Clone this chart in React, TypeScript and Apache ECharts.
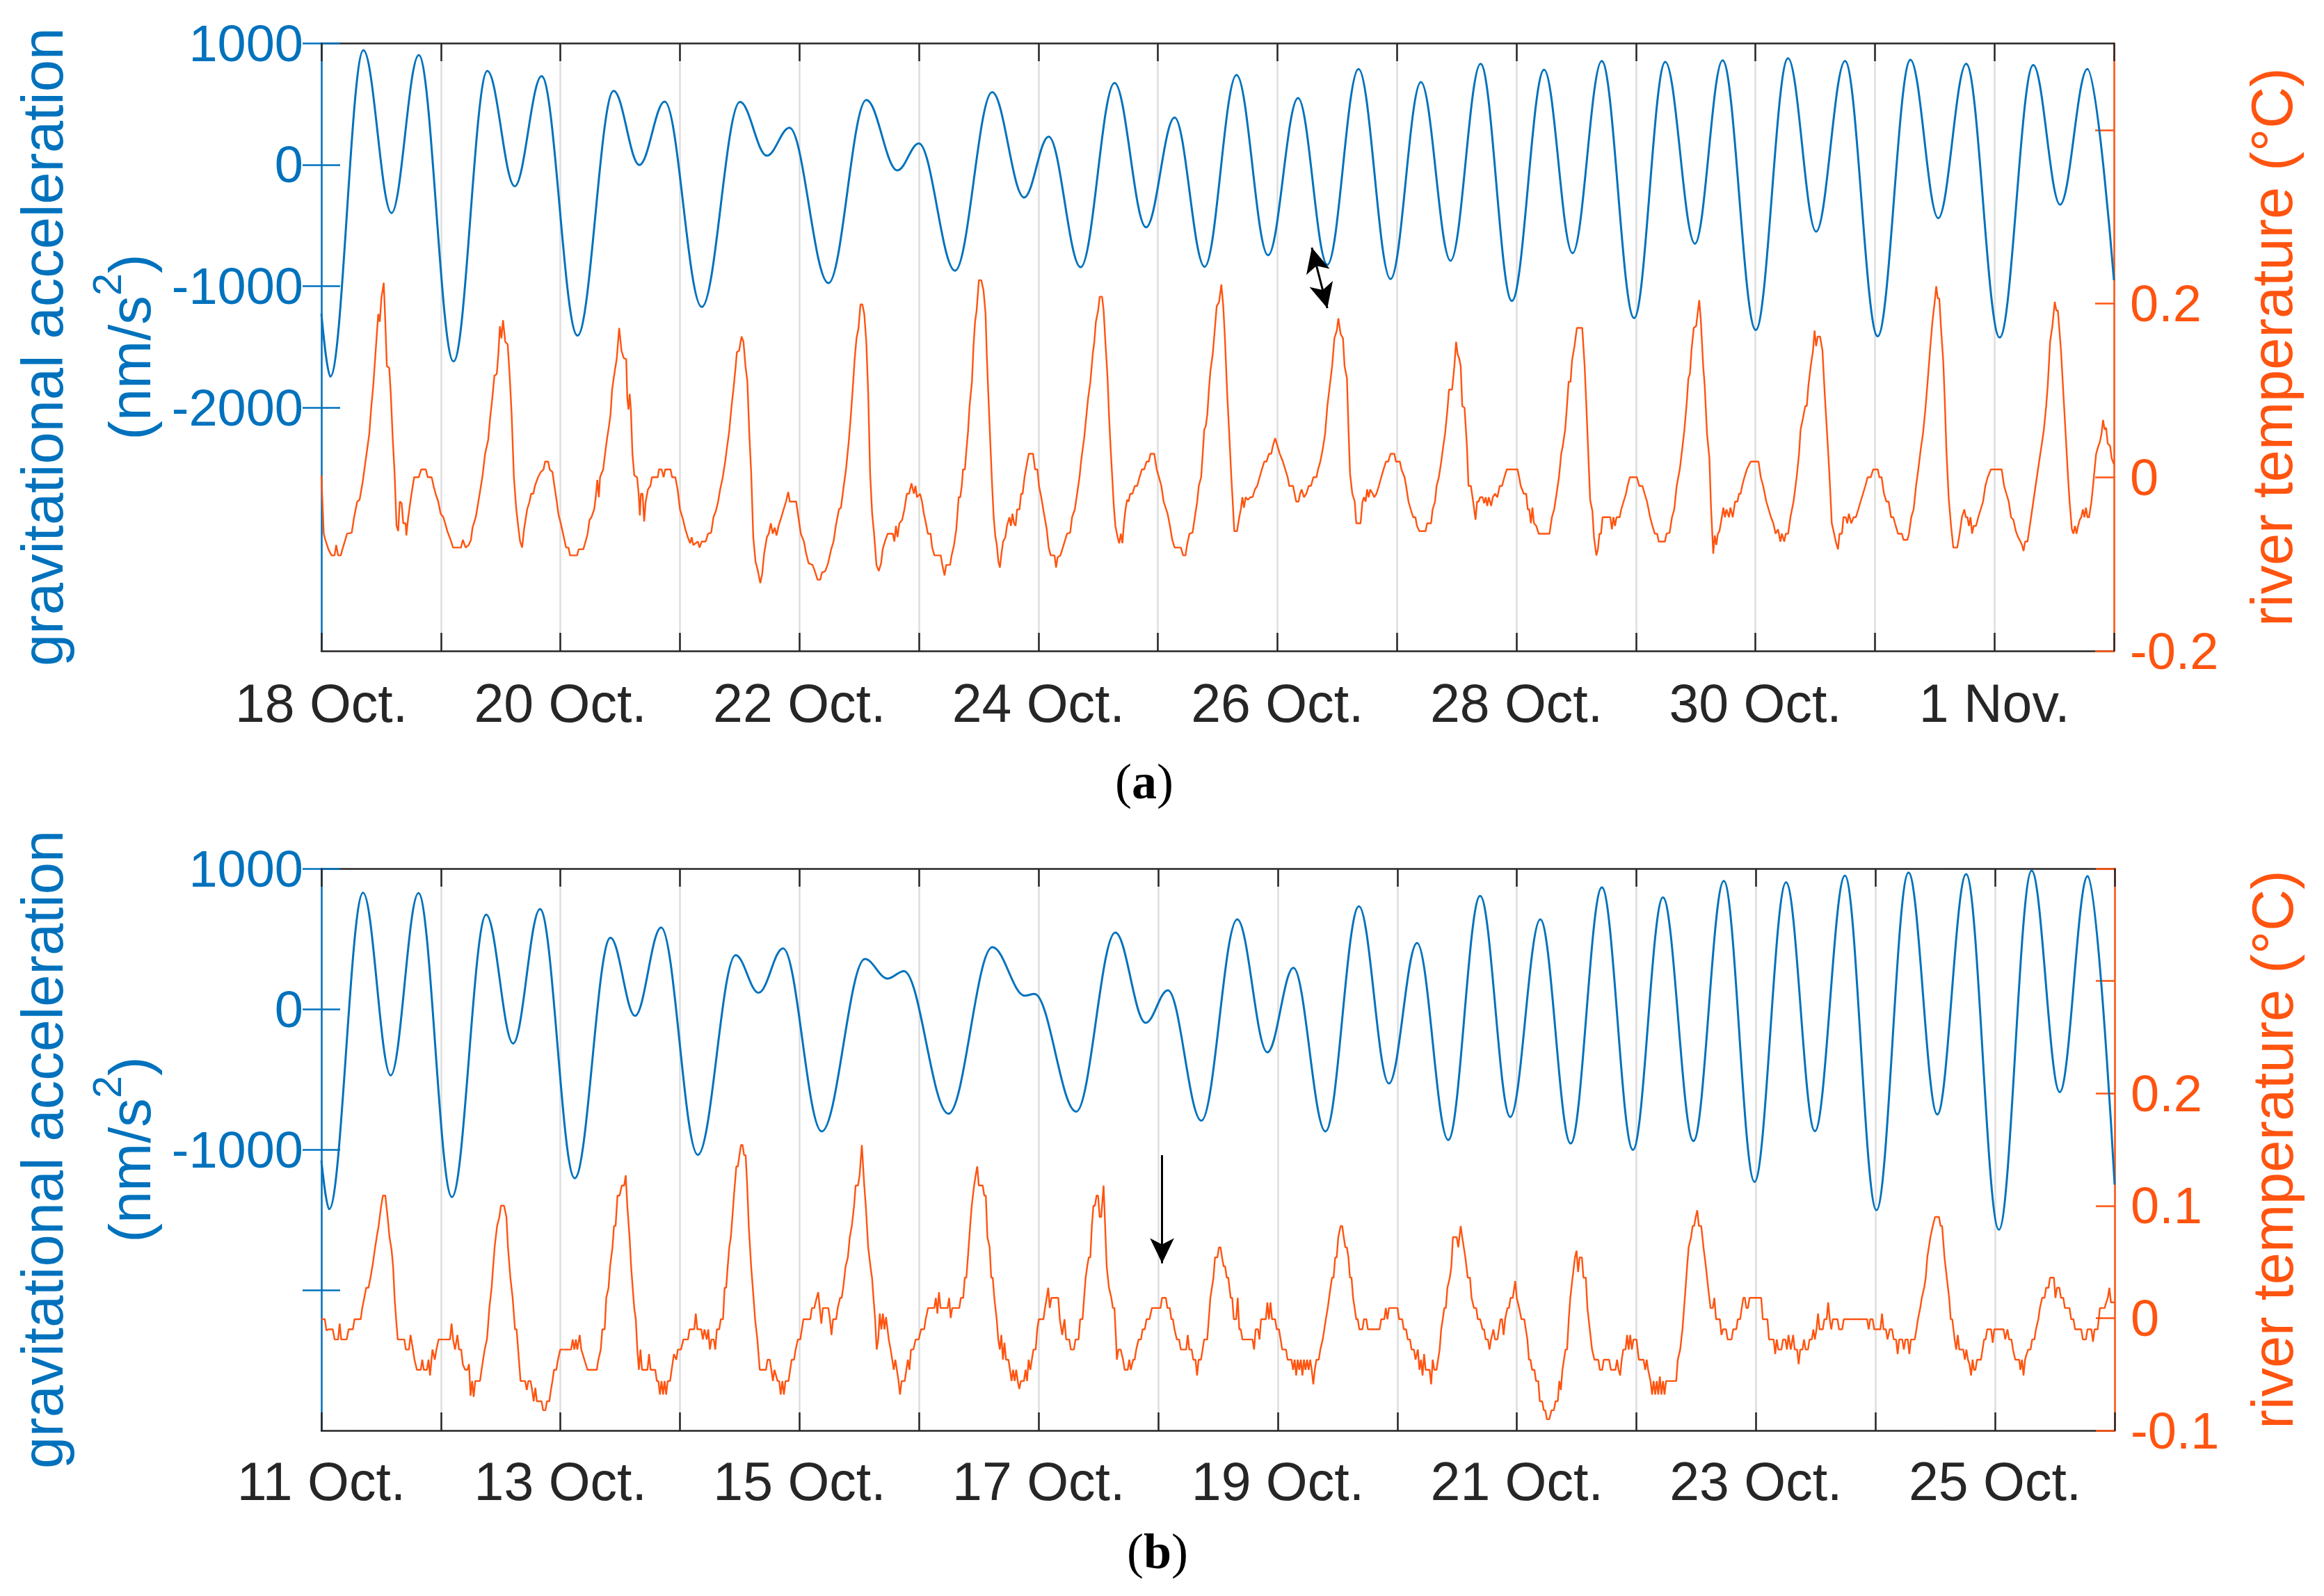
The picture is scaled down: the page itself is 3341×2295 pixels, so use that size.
import React, { useEffect, useRef } from 'react';
import * as echarts from 'echarts';

const BLUE = '#0072BD';
const ORANGE = '#FF5410';
const DARK = '#262626';
const GRIDC = '#DEDEDE';
const FONT = '"Liberation Sans", Arial, Helvetica, sans-serif';
const SERIF = '"Liberation Serif", "Times New Roman", serif';

// tick labels (every second day)
const labelsA = ['18 Oct.', '20 Oct.', '22 Oct.', '24 Oct.', '26 Oct.', '28 Oct.', '30 Oct.', '1 Nov.'];
const labelsB = ['11 Oct.', '13 Oct.', '15 Oct.', '17 Oct.', '19 Oct.', '21 Oct.', '23 Oct.', '25 Oct.'];
const labelDays = [0, 2, 4, 6, 8, 10, 12, 14];

const gravTicksA = [-2000, -1000, 0, 1000];
const gravLabelsA = [-2000, -1000, 0, 1000];
const tempTicksA = [-0.2, 0, 0.2, 0.4];
const tempLabelsA = [-0.2, 0, 0.2];
const gravTicksB = [-2000, -1000, 0, 1000];
const gravLabelsB = [-1000, 0, 1000];
const tempTicksB = [-0.1, 0, 0.1, 0.2, 0.3, 0.4];
const tempLabelsB = [-0.1, 0, 0.1, 0.2];

// [days since first date, nm/s^2] - turning points of the tidal signal
const gravityA = [
  [0, -1226], [0.075, -1743], [0.352, 941], [0.587, -398], [0.815, 902], [1.106, -1619], [1.389, 771], [1.618, -178],
  [1.843, 728], [2.143, -1406], [2.446, 607], [2.661, -2], [2.873, 519], [3.183, -1170], [3.503, 516], [3.728, 74],
  [3.917, 303], [4.243, -974], [4.56, 532], [4.82, -47], [5.0, 175], [5.303, -872], [5.613, 597], [5.881, -270],
  [6.086, 231], [6.354, -843], [6.637, 673], [6.901, -515], [7.14, 388], [7.391, -840], [7.658, 738], [7.922, -745],
  [8.173, 548], [8.418, -823], [8.679, 787], [8.947, -941], [9.201, 679], [9.449, -790], [9.7, 830], [9.962, -1121],
  [10.232, 781], [10.47, -728], [10.714, 853], [10.985, -1262], [11.246, 846], [11.494, -650], [11.725, 859],
  [12.003, -1360], [12.273, 876], [12.508, -551], [12.75, 853], [13.023, -1412], [13.297, 863], [13.53, -440],
  [13.764, 830], [14.044, -1422], [14.325, 820], [14.55, -329], [14.778, 787], [15, -950],
];

// [days, degC]
const temperatureA = [
  [0, 0.002], [0.02, -0.065], [0.033, -0.072], [0.059, -0.083], [0.085, -0.09], [0.111, -0.09], [0.124, -0.078], [0.14, -0.09],
  [0.163, -0.09], [0.176, -0.083], [0.196, -0.074], [0.215, -0.065], [0.254, -0.064], [0.274, -0.046], [0.3, -0.028], [0.32, -0.026],
  [0.346, -0.005], [0.369, 0.018], [0.401, 0.05], [0.417, 0.08], [0.434, 0.105], [0.457, 0.151], [0.476, 0.188], [0.489, 0.179],
  [0.502, 0.206], [0.522, 0.224], [0.535, 0.179], [0.548, 0.128], [0.568, 0.126], [0.581, 0.096], [0.597, 0.045], [0.613, 0.004],
  [0.629, -0.056], [0.643, -0.062], [0.656, -0.028], [0.672, -0.03], [0.685, -0.053], [0.705, -0.053], [0.711, -0.067], [0.727, -0.046],
  [0.75, -0.023], [0.776, 0], [0.815, 0], [0.835, 0.009], [0.874, 0.009], [0.89, 0], [0.923, 0], [0.939, -0.01], [0.956, -0.019],
  [0.978, -0.028], [0.998, -0.042], [1.021, -0.046], [1.054, -0.062], [1.086, -0.074], [1.102, -0.081], [1.168, -0.081], [1.184, -0.072],
  [1.207, -0.081], [1.233, -0.078], [1.252, -0.072], [1.265, -0.058], [1.292, -0.046], [1.314, -0.028], [1.347, 0], [1.37, 0.027],
  [1.396, 0.043], [1.412, 0.068], [1.429, 0.089], [1.448, 0.117], [1.468, 0.119], [1.481, 0.142], [1.494, 0.174], [1.507, 0.16],
  [1.52, 0.181], [1.539, 0.156], [1.559, 0.153], [1.575, 0.119], [1.592, 0.073], [1.611, 0], [1.631, -0.037], [1.65, -0.06],
  [1.663, -0.074], [1.68, -0.081], [1.696, -0.06], [1.722, -0.037], [1.742, -0.028], [1.755, -0.019], [1.774, -0.019], [1.787, -0.01],
  [1.813, 0], [1.836, 0.006], [1.859, 0.009], [1.872, 0.018], [1.898, 0.018], [1.911, 0.009], [1.934, 0.006], [1.95, -0.01],
  [1.97, -0.028], [1.983, -0.042], [2.003, -0.053], [2.029, -0.069], [2.048, -0.081], [2.068, -0.081], [2.081, -0.09], [2.14, -0.09],
  [2.153, -0.083], [2.192, -0.083], [2.211, -0.074], [2.228, -0.065], [2.244, -0.049], [2.26, -0.046], [2.283, -0.037], [2.296, -0.023],
  [2.309, -0.003], [2.322, -0.023], [2.332, 0], [2.358, 0.009], [2.374, 0.027], [2.391, 0.045], [2.407, 0.059], [2.42, 0.073],
  [2.433, 0.101], [2.446, 0.114], [2.472, 0.137], [2.492, 0.172], [2.511, 0.146], [2.531, 0.137], [2.551, 0.136], [2.56, 0.091],
  [2.57, 0.078], [2.58, 0.096], [2.59, 0.078], [2.603, 0.027], [2.619, 0.002], [2.642, 0], [2.655, -0.019], [2.665, -0.044],
  [2.674, -0.019], [2.688, -0.019], [2.701, -0.051], [2.714, -0.028], [2.733, -0.014], [2.753, -0.01], [2.766, 0], [2.815, 0],
  [2.825, 0.009], [2.847, 0.009], [2.864, 0], [2.877, 0.009], [2.922, 0.009], [2.935, 0], [2.962, 0], [2.981, -0.014], [3.001, -0.037],
  [3.027, -0.049], [3.046, -0.06], [3.066, -0.069], [3.086, -0.076], [3.099, -0.069], [3.112, -0.078], [3.151, -0.074], [3.164, -0.081],
  [3.183, -0.074], [3.216, -0.074], [3.236, -0.065], [3.262, -0.064], [3.281, -0.046], [3.301, -0.039], [3.32, -0.028], [3.337, -0.014],
  [3.359, 0], [3.379, 0.018], [3.392, 0.032], [3.412, 0.052], [3.431, 0.08], [3.451, 0.105], [3.467, 0.128], [3.477, 0.144],
  [3.496, 0.146], [3.516, 0.162], [3.532, 0.156], [3.549, 0.128], [3.565, 0.11], [3.581, 0.05], [3.597, 0.004], [3.614, -0.069],
  [3.633, -0.097], [3.653, -0.108], [3.673, -0.122], [3.689, -0.111], [3.705, -0.088], [3.728, -0.069], [3.744, -0.065], [3.761, -0.053],
  [3.777, -0.065], [3.793, -0.058], [3.809, -0.067], [3.826, -0.056], [3.849, -0.046], [3.868, -0.037], [3.888, -0.028], [3.907, -0.017],
  [3.92, -0.028], [3.973, -0.028], [3.992, -0.046], [4.012, -0.065], [4.038, -0.074], [4.057, -0.088], [4.077, -0.099], [4.11, -0.101],
  [4.129, -0.108], [4.152, -0.118], [4.175, -0.118], [4.188, -0.11], [4.217, -0.108], [4.24, -0.099], [4.266, -0.083], [4.286, -0.074],
  [4.305, -0.056], [4.331, -0.037], [4.348, -0.035], [4.371, -0.01], [4.39, 0.009], [4.413, 0.041], [4.429, 0.068], [4.446, 0.101],
  [4.462, 0.135], [4.478, 0.16], [4.495, 0.172], [4.511, 0.199], [4.527, 0.199], [4.543, 0.188], [4.56, 0.156], [4.576, 0.096],
  [4.592, 0.004], [4.609, -0.042], [4.625, -0.065], [4.645, -0.101], [4.664, -0.108], [4.684, -0.099], [4.697, -0.083], [4.716, -0.074],
  [4.739, -0.065], [4.782, -0.065], [4.795, -0.074], [4.808, -0.056], [4.821, -0.069], [4.837, -0.053], [4.86, -0.049], [4.879, -0.037],
  [4.899, -0.019], [4.918, -0.019], [4.938, -0.007], [4.958, -0.019], [4.971, -0.01], [4.984, -0.023],
  [5.01, -0.019], [5.026, -0.028], [5.042, -0.042], [5.059, -0.053], [5.075, -0.065], [5.098, -0.065], [5.111, -0.081], [5.13, -0.09],
  [5.183, -0.09], [5.196, -0.101], [5.215, -0.113], [5.228, -0.101], [5.261, -0.101], [5.274, -0.09], [5.294, -0.078], [5.313, -0.06],
  [5.333, -0.023], [5.346, -0.023], [5.359, -0.01], [5.369, 0.009], [5.385, 0.009], [5.398, 0.032], [5.411, 0.052], [5.424, 0.082],
  [5.444, 0.11], [5.457, 0.151], [5.47, 0.179], [5.483, 0.192], [5.502, 0.227], [5.522, 0.227], [5.541, 0.215], [5.558, 0.188],
  [5.568, 0.142], [5.581, 0.096], [5.6, 0.032], [5.613, -0.01], [5.626, -0.046], [5.639, -0.067], [5.652, -0.078], [5.665, -0.097],
  [5.678, -0.104], [5.691, -0.088], [5.705, -0.074], [5.724, -0.069], [5.737, -0.056], [5.757, -0.046], [5.77, -0.056], [5.783, -0.042],
  [5.796, -0.053], [5.809, -0.056], [5.822, -0.037], [5.842, -0.037], [5.855, -0.019], [5.868, -0.019], [5.884, 0], [5.907, 0.018],
  [5.92, 0.027], [5.956, 0.027], [5.972, 0.009], [5.992, 0.009], [6.005, -0.01], [6.024, -0.023], [6.047, -0.042], [6.07, -0.06],
  [6.086, -0.081], [6.103, -0.09], [6.135, -0.09], [6.148, -0.104], [6.161, -0.092], [6.184, -0.09], [6.2, -0.083], [6.22, -0.074],
  [6.24, -0.065], [6.266, -0.064], [6.282, -0.046], [6.305, -0.037], [6.324, -0.019], [6.344, 0], [6.357, 0.018], [6.37, 0.032],
  [6.383, 0.045], [6.403, 0.073], [6.416, 0.091], [6.435, 0.11], [6.455, 0.142], [6.468, 0.156], [6.481, 0.179], [6.5, 0.192],
  [6.513, 0.208], [6.533, 0.208], [6.546, 0.192], [6.559, 0.16], [6.579, 0.114], [6.592, 0.068], [6.605, 0.032], [6.618, 0],
  [6.631, -0.033], [6.644, -0.056], [6.663, -0.069], [6.676, -0.076], [6.69, -0.065], [6.703, -0.076], [6.716, -0.053], [6.729, -0.037],
  [6.742, -0.026], [6.755, -0.028], [6.768, -0.019], [6.787, -0.019], [6.807, -0.01], [6.827, -0.01], [6.846, 0], [6.866, 0.009],
  [6.885, 0.009], [6.905, 0.018], [6.924, 0.018], [6.938, 0.027], [6.97, 0.027], [6.99, 0.009], [7.009, 0], [7.029, -0.01],
  [7.048, -0.028], [7.081, -0.042], [7.101, -0.056], [7.12, -0.072], [7.14, -0.081], [7.192, -0.081], [7.211, -0.09], [7.231, -0.09],
  [7.244, -0.078], [7.264, -0.065], [7.29, -0.064], [7.309, -0.046], [7.329, -0.028], [7.342, -0.01], [7.362, 0], [7.375, 0.027],
  [7.388, 0.055], [7.401, 0.059], [7.414, 0.073], [7.427, 0.101], [7.44, 0.123], [7.459, 0.142], [7.473, 0.165], [7.492, 0.197],
  [7.512, 0.202], [7.531, 0.222], [7.547, 0.197], [7.561, 0.16], [7.58, 0.096], [7.597, 0.05], [7.613, 0.004], [7.626, -0.028],
  [7.639, -0.062], [7.662, -0.062], [7.681, -0.046], [7.694, -0.037], [7.707, -0.023], [7.72, -0.035], [7.734, -0.023], [7.753, -0.026],
  [7.773, -0.023], [7.792, -0.023], [7.812, -0.014], [7.831, -0.01], [7.851, 0], [7.87, 0.009], [7.89, 0.018], [7.909, 0.018],
  [7.929, 0.027], [7.949, 0.027], [7.962, 0.036], [7.981, 0.045], [8.001, 0.036], [8.02, 0.027], [8.046, 0.018], [8.066, 0.009],
  [8.086, 0], [8.099, -0.01], [8.131, -0.01], [8.144, -0.019], [8.157, -0.028], [8.177, -0.028], [8.19, -0.019], [8.203, -0.014],
  [8.222, -0.023], [8.242, -0.019], [8.262, -0.01], [8.281, -0.01], [8.301, 0], [8.327, 0], [8.34, 0.009], [8.359, 0.018],
  [8.379, 0.032], [8.399, 0.05], [8.418, 0.082], [8.438, 0.105], [8.458, 0.128], [8.477, 0.16], [8.497, 0.169], [8.51, 0.183],
  [8.529, 0.165], [8.549, 0.16], [8.562, 0.128], [8.582, 0.114], [8.595, 0.055], [8.608, 0.004], [8.627, -0.019], [8.647, -0.028],
  [8.66, -0.053], [8.696, -0.053], [8.712, -0.028], [8.725, -0.023], [8.738, -0.028], [8.751, -0.014], [8.764, -0.023], [8.777, -0.014],
  [8.797, -0.019], [8.81, -0.023], [8.829, -0.019], [8.849, -0.01], [8.869, 0], [8.888, 0.009], [8.908, 0.018], [8.927, 0.018],
  [8.947, 0.027], [8.979, 0.027], [8.992, 0.018], [9.025, 0.018], [9.038, 0.009], [9.064, 0], [9.077, -0.01], [9.097, -0.028],
  [9.116, -0.037], [9.136, -0.046], [9.155, -0.046], [9.168, -0.056], [9.188, -0.062], [9.24, -0.062], [9.253, -0.053], [9.286, -0.053],
  [9.299, -0.037], [9.319, -0.028], [9.332, -0.01], [9.351, 0], [9.371, 0.018], [9.384, 0.032], [9.403, 0.05], [9.423, 0.078],
  [9.436, 0.101], [9.462, 0.101], [9.481, 0.128], [9.495, 0.156], [9.508, 0.142], [9.521, 0.137], [9.534, 0.128], [9.547, 0.082],
  [9.566, 0.08], [9.586, 0.036], [9.599, -0.01], [9.619, -0.01], [9.638, -0.028], [9.658, -0.049], [9.671, -0.028], [9.684, -0.028],
  [9.697, -0.023], [9.717, -0.023], [9.73, -0.03], [9.743, -0.023], [9.756, -0.033], [9.769, -0.023], [9.789, -0.033], [9.802, -0.023],
  [9.821, -0.019], [9.841, -0.023], [9.86, -0.01], [9.88, -0.01], [9.899, 0], [9.919, 0.009], [10.01, 0.009], [10.023, 0],
  [10.036, -0.01],
  [10.062, -0.019], [10.082, -0.019], [10.095, -0.037], [10.108, -0.037], [10.121, -0.053], [10.134, -0.035], [10.147, -0.053],
  [10.166, -0.056], [10.186, -0.065], [10.277, -0.065], [10.297, -0.046], [10.316, -0.037], [10.336, -0.019], [10.356, 0],
  [10.375, 0.027], [10.388, 0.036], [10.408, 0.055], [10.421, 0.078], [10.437, 0.11], [10.453, 0.11], [10.466, 0.135], [10.486, 0.151],
  [10.506, 0.172], [10.551, 0.172], [10.571, 0.128], [10.584, 0.087], [10.603, 0.022], [10.617, -0.026], [10.636, -0.039], [10.649, -0.069],
  [10.669, -0.09], [10.682, -0.083], [10.695, -0.065], [10.708, -0.065], [10.721, -0.046], [10.786, -0.046], [10.799, -0.06], [10.812, -0.046],
  [10.825, -0.056], [10.838, -0.046], [10.864, -0.046], [10.877, -0.037], [10.897, -0.028], [10.917, -0.019], [10.93, -0.01], [10.949, 0],
  [11.008, 0], [11.028, -0.01], [11.054, -0.01], [11.073, -0.019], [11.093, -0.028], [11.119, -0.046], [11.138, -0.056], [11.158, -0.065],
  [11.178, -0.065], [11.191, -0.074], [11.243, -0.074], [11.256, -0.065], [11.282, -0.064], [11.302, -0.046], [11.321, -0.037], [11.341, -0.01],
  [11.367, 0.009], [11.387, 0.032], [11.406, 0.055], [11.426, 0.087], [11.439, 0.114], [11.452, 0.119], [11.465, 0.146], [11.484, 0.172],
  [11.504, 0.174], [11.53, 0.204], [11.543, 0.181], [11.563, 0.128], [11.576, 0.105], [11.595, 0.05], [11.615, 0.022], [11.628, -0.033],
  [11.647, -0.088], [11.66, -0.067], [11.673, -0.078], [11.686, -0.065], [11.699, -0.062], [11.713, -0.051], [11.732, -0.035], [11.745, -0.046],
  [11.758, -0.037], [11.778, -0.046], [11.791, -0.035], [11.81, -0.046], [11.83, -0.028], [11.85, -0.028], [11.863, -0.019], [11.876, -0.019],
  [11.889, -0.01], [11.908, 0], [11.928, 0.009], [11.96, 0.018], [12.026, 0.018], [12.045, 0], [12.065, -0.01], [12.078, -0.019],
  [12.091, -0.028], [12.111, -0.037], [12.13, -0.046], [12.15, -0.053], [12.169, -0.065], [12.189, -0.06], [12.209, -0.074], [12.221, -0.065],
  [12.241, -0.074], [12.254, -0.065], [12.274, -0.065], [12.293, -0.046], [12.319, -0.028], [12.345, 0], [12.365, 0.027], [12.378, 0.055],
  [12.398, 0.068], [12.417, 0.082], [12.43, 0.082], [12.443, 0.105], [12.463, 0.128], [12.482, 0.146], [12.495, 0.169], [12.508, 0.151],
  [12.521, 0.162], [12.541, 0.162], [12.561, 0.146], [12.58, 0.096], [12.6, 0.05], [12.619, 0.004], [12.639, -0.053], [12.659, -0.065],
  [12.672, -0.074], [12.691, -0.083], [12.704, -0.065], [12.724, -0.065], [12.737, -0.046], [12.756, -0.046], [12.769, -0.053], [12.782, -0.042],
  [12.802, -0.053], [12.822, -0.046], [12.841, -0.046], [12.861, -0.037], [12.88, -0.028], [12.9, -0.019], [12.92, -0.01], [12.939, 0],
  [12.965, 0], [12.985, 0.009], [13.024, 0.009], [13.037, 0], [13.056, 0], [13.076, -0.019], [13.096, -0.028], [13.115, -0.028],
  [13.135, -0.046], [13.154, -0.046], [13.174, -0.056], [13.193, -0.065], [13.226, -0.065], [13.239, -0.072], [13.272, -0.072], [13.285, -0.065],
  [13.304, -0.046], [13.324, -0.037], [13.344, -0.01], [13.363, 0.009], [13.383, 0.032], [13.402, 0.05], [13.422, 0.078], [13.441, 0.11],
  [13.461, 0.146], [13.481, 0.179], [13.5, 0.202], [13.513, 0.22], [13.526, 0.206], [13.539, 0.206], [13.552, 0.174], [13.572, 0.133],
  [13.585, 0.087], [13.598, 0.032], [13.617, -0.023], [13.637, -0.056], [13.656, -0.081], [13.689, -0.081], [13.709, -0.065], [13.728, -0.046],
  [13.748, -0.037], [13.761, -0.046], [13.774, -0.046], [13.787, -0.056], [13.8, -0.046], [13.813, -0.065], [13.826, -0.056], [13.846, -0.056],
  [13.865, -0.046], [13.885, -0.037], [13.905, -0.028], [13.924, -0.01], [13.944, 0], [13.97, 0.009], [14.061, 0.009], [14.081, -0.01],
  [14.1, -0.019], [14.12, -0.028], [14.139, -0.046], [14.159, -0.049], [14.179, -0.062], [14.198, -0.069], [14.218, -0.074], [14.231, -0.078],
  [14.244, -0.085], [14.257, -0.074], [14.277, -0.074], [14.296, -0.056], [14.316, -0.037], [14.335, -0.019], [14.355, 0], [14.374, 0.018],
  [14.394, 0.036], [14.414, 0.055], [14.433, 0.082], [14.446, 0.105], [14.466, 0.156], [14.485, 0.174], [14.505, 0.202], [14.518, 0.192],
  [14.531, 0.192], [14.544, 0.169], [14.557, 0.146], [14.577, 0.096], [14.596, 0.05], [14.616, 0], [14.629, -0.028], [14.648, -0.06],
  [14.661, -0.065], [14.674, -0.056], [14.687, -0.065], [14.7, -0.056], [14.714, -0.049], [14.727, -0.046], [14.74, -0.037], [14.753, -0.046],
  [14.766, -0.035], [14.779, -0.046], [14.792, -0.046], [14.812, -0.028], [14.825, -0.01], [14.838, 0.009], [14.851, 0.027], [14.87, 0.036],
  [14.883, 0.041], [14.896, 0.05], [14.909, 0.066], [14.922, 0.055], [14.935, 0.057], [14.948, 0.039], [14.968, 0.036], [14.981, 0.022],
  [15, 0.015],
];

const gravityB = [
  [0, -1078], [0.065, -1424], [0.349, 828], [0.58, -472], [0.812, 826], [1.092, -1338], [1.379, 672], [1.604, -245],
  [1.829, 712], [2.119, -1204], [2.418, 508], [2.624, -48], [2.842, 581], [3.149, -1038], [3.465, 384], [3.657, 116],
  [3.862, 432], [4.185, -871], [4.547, 356], [4.736, 217], [4.873, 270], [5.245, -745], [5.613, 440], [5.884, 95],
  [5.965, 108], [6.314, -730], [6.641, 545], [6.895, -98], [7.081, 134], [7.361, -795], [7.661, 639], [7.913, -308],
  [8.131, 293], [8.399, -871], [8.679, 732], [8.93, -530], [9.165, 470], [9.426, -932], [9.693, 806], [9.945, -768],
  [10.196, 639], [10.45, -957], [10.711, 866], [10.971, -1002], [11.222, 795], [11.477, -939], [11.731, 912], [11.988, -1230],
  [12.252, 902], [12.493, -869], [12.744, 950], [13.008, -1432], [13.276, 972], [13.517, -750], [13.758, 960], [14.032, -1570],
  [14.306, 985], [14.541, -591], [14.775, 947], [15, -1250],
];

const temperatureB = [
  [0, -0.001], [0.029, -0.001], [0.042, -0.011], [0.059, -0.01], [0.095, -0.01], [0.111, -0.019], [0.14, -0.019], [0.153, -0.005],
  [0.166, -0.019], [0.212, -0.019], [0.228, -0.01], [0.264, -0.01], [0.277, -0.001], [0.329, -0.001], [0.342, 0.009], [0.359, 0.018],
  [0.375, 0.027], [0.394, 0.027], [0.411, 0.036], [0.427, 0.046], [0.447, 0.061], [0.463, 0.072], [0.479, 0.082], [0.499, 0.099],
  [0.515, 0.109], [0.535, 0.109], [0.554, 0.09], [0.57, 0.072], [0.587, 0.061], [0.6, 0.046], [0.613, 0.017], [0.626, -0.002],
  [0.639, -0.019], [0.694, -0.019], [0.707, -0.028], [0.733, -0.028], [0.746, -0.015], [0.766, -0.028], [0.779, -0.037], [0.799, -0.046],
  [0.831, -0.046], [0.844, -0.037], [0.857, -0.046], [0.883, -0.046], [0.896, -0.037], [0.909, -0.051], [0.929, -0.028], [0.949, -0.037],
  [0.962, -0.028], [0.981, -0.019], [1.076, -0.019], [1.089, -0.005], [1.102, -0.019], [1.118, -0.028], [1.138, -0.015], [1.151, -0.028],
  [1.17, -0.028], [1.183, -0.041], [1.203, -0.046], [1.222, -0.046], [1.235, -0.041], [1.248, -0.069], [1.261, -0.056], [1.274, -0.07],
  [1.287, -0.056], [1.327, -0.056], [1.34, -0.046], [1.353, -0.037], [1.366, -0.028], [1.385, -0.019], [1.392, -0.01], [1.405, 0.009],
  [1.424, 0.027], [1.437, 0.046], [1.45, 0.064], [1.47, 0.082], [1.489, 0.09], [1.502, 0.1], [1.528, 0.1], [1.548, 0.09],
  [1.561, 0.063], [1.581, 0.036], [1.6, 0.018], [1.62, -0.01], [1.633, -0.01], [1.646, -0.028], [1.666, -0.056], [1.705, -0.056],
  [1.718, -0.064], [1.731, -0.056], [1.75, -0.056], [1.763, -0.064], [1.776, -0.074], [1.79, -0.062], [1.802, -0.074], [1.842, -0.074],
  [1.855, -0.082], [1.874, -0.082], [1.887, -0.074], [1.907, -0.074], [1.92, -0.064], [1.933, -0.056], [1.946, -0.046], [1.965, -0.046],
  [1.979, -0.037], [1.998, -0.028], [2.089, -0.028], [2.102, -0.019], [2.116, -0.028], [2.129, -0.019], [2.141, -0.028], [2.161, -0.015],
  [2.174, -0.028], [2.2, -0.037], [2.226, -0.046], [2.304, -0.046], [2.317, -0.037], [2.337, -0.028], [2.35, -0.01], [2.37, -0.01],
  [2.383, 0.018], [2.402, 0.027], [2.415, 0.046], [2.435, 0.063], [2.448, 0.082], [2.461, 0.082], [2.477, 0.109], [2.494, 0.109],
  [2.513, 0.118], [2.533, 0.118], [2.546, 0.127], [2.559, 0.1], [2.578, 0.072], [2.591, 0.046], [2.604, 0.027], [2.617, 0.009],
  [2.63, -0.001], [2.643, -0.028], [2.656, -0.046], [2.669, -0.028], [2.682, -0.046], [2.728, -0.046], [2.741, -0.032], [2.754, -0.046],
  [2.793, -0.046], [2.806, -0.056], [2.819, -0.056], [2.832, -0.068], [2.845, -0.056], [2.858, -0.068], [2.871, -0.056], [2.884, -0.068],
  [2.897, -0.056], [2.917, -0.056], [2.93, -0.046], [2.949, -0.032], [2.969, -0.037], [2.982, -0.028], [3.008, -0.028], [3.028, -0.019],
  [3.067, -0.019], [3.08, -0.01], [3.119, -0.01], [3.132, 0.004], [3.145, -0.01], [3.178, -0.01], [3.191, -0.019], [3.204, -0.01],
  [3.224, -0.019], [3.236, -0.01], [3.25, -0.028], [3.263, -0.019], [3.282, -0.019], [3.295, -0.028], [3.308, -0.01], [3.328, -0.01],
  [3.341, -0.001], [3.36, -0.001], [3.373, 0.027], [3.386, 0.027], [3.399, 0.046], [3.412, 0.063], [3.425, 0.072], [3.438, 0.09],
  [3.451, 0.109], [3.471, 0.135], [3.484, 0.135], [3.497, 0.145], [3.51, 0.154], [3.523, 0.154], [3.536, 0.145], [3.549, 0.145],
  [3.562, 0.118], [3.575, 0.082], [3.595, 0.046], [3.615, 0.018], [3.628, -0.001], [3.647, -0.019], [3.667, -0.046], [3.719, -0.046],
  [3.732, -0.037], [3.751, -0.037], [3.764, -0.046], [3.777, -0.056], [3.79, -0.046], [3.816, -0.056], [3.83, -0.056], [3.842, -0.068],
  [3.856, -0.056], [3.869, -0.068], [3.882, -0.056], [3.908, -0.056], [3.921, -0.046], [3.934, -0.037], [3.954, -0.037], [3.967, -0.028],
  [3.986, -0.019], [4.006, -0.019], [4.019, -0.01], [4.032, -0.001], [4.09, -0.001], [4.103, 0.009], [4.123, 0.009], [4.143, 0.018],
  [4.156, 0.023], [4.169, 0.009], [4.182, -0.005], [4.195, 0.009], [4.241, 0.009], [4.254, -0.001], [4.267, -0.015], [4.28, -0.001],
  [4.306, -0.001], [4.319, 0.009], [4.339, 0.018], [4.352, 0.018], [4.365, 0.027], [4.385, 0.046], [4.404, 0.054], [4.42, 0.072],
  [4.437, 0.082], [4.456, 0.1], [4.469, 0.118], [4.489, 0.118], [4.502, 0.127], [4.521, 0.154], [4.541, 0.118], [4.554, 0.1],
  [4.574, 0.063], [4.593, 0.046], [4.606, 0.036], [4.619, 0.017], [4.632, -0.001], [4.645, -0.028], [4.658, -0.019], [4.671, 0.004],
  [4.684, -0.01], [4.697, 0.004], [4.71, -0.01], [4.723, 0.001], [4.736, -0.01], [4.746, -0.019], [4.762, -0.028], [4.775, -0.037],
  [4.788, -0.046], [4.801, -0.037], [4.814, -0.046], [4.828, -0.056], [4.84, -0.068], [4.854, -0.056], [4.88, -0.056], [4.893, -0.046],
  [4.906, -0.037], [4.919, -0.046], [4.932, -0.028], [4.952, -0.028], [4.971, -0.019], [4.997, -0.019],
  [5.016, -0.01], [5.042, -0.01], [5.055, -0.001], [5.075, 0.009], [5.127, 0.009], [5.14, 0.018], [5.153, 0.004], [5.166, 0.023],
  [5.179, 0.009], [5.238, 0.009], [5.251, 0.018], [5.264, 0], [5.277, 0.009], [5.336, 0.009], [5.349, 0.018], [5.369, 0.018],
  [5.382, 0.036], [5.395, 0.036], [5.408, 0.054], [5.427, 0.082], [5.44, 0.1], [5.46, 0.118], [5.473, 0.127], [5.486, 0.135],
  [5.499, 0.118], [5.532, 0.118], [5.545, 0.109], [5.558, 0.109], [5.571, 0.072], [5.59, 0.063], [5.603, 0.036], [5.616, 0.036],
  [5.629, 0.018], [5.649, -0.001], [5.662, -0.019], [5.675, -0.028], [5.688, -0.015], [5.701, -0.037], [5.714, -0.022], [5.727, -0.037],
  [5.747, -0.037], [5.76, -0.046], [5.773, -0.056], [5.786, -0.046], [5.799, -0.056], [5.812, -0.046], [5.825, -0.056], [5.838, -0.063],
  [5.851, -0.056], [5.877, -0.056], [5.89, -0.046], [5.903, -0.056], [5.916, -0.037], [5.93, -0.046], [5.943, -0.037], [5.956, -0.028],
  [5.975, -0.028], [5.988, -0.01], [6.001, -0.001], [6.04, -0.001], [6.053, 0.009], [6.067, 0.018], [6.08, 0.027], [6.093, 0.009],
  [6.106, 0.018], [6.164, 0.018], [6.177, -0.001], [6.197, -0.015], [6.216, -0.001], [6.23, -0.019], [6.256, -0.019], [6.269, -0.028],
  [6.295, -0.028], [6.308, -0.019], [6.334, -0.019], [6.347, -0.001], [6.367, -0.001], [6.38, 0.018], [6.393, 0.036], [6.406, 0.046],
  [6.419, 0.054], [6.432, 0.054], [6.445, 0.082], [6.458, 0.1], [6.471, 0.1], [6.484, 0.109], [6.497, 0.109], [6.51, 0.09],
  [6.523, 0.09], [6.543, 0.118], [6.556, 0.082], [6.569, 0.046], [6.588, 0.027], [6.608, 0.018], [6.621, 0.009], [6.634, 0.009],
  [6.647, -0.019], [6.654, -0.037], [6.667, -0.028], [6.686, -0.028], [6.706, -0.037], [6.719, -0.046], [6.745, -0.046], [6.758, -0.037],
  [6.771, -0.046], [6.79, -0.037], [6.803, -0.037], [6.816, -0.028], [6.836, -0.019], [6.856, -0.019], [6.869, -0.01], [6.888, -0.01],
  [6.902, -0.001], [6.927, -0.001], [6.947, 0.009], [7.019, 0.009], [7.032, 0.018], [7.064, 0.018], [7.077, 0.009], [7.097, 0.009],
  [7.11, -0.001], [7.123, -0.001], [7.136, -0.01], [7.156, -0.019], [7.175, -0.019], [7.189, -0.028], [7.234, -0.028], [7.247, -0.015],
  [7.26, -0.028], [7.28, -0.028], [7.293, -0.037], [7.312, -0.037], [7.325, -0.051], [7.338, -0.037], [7.358, -0.037], [7.371, -0.028],
  [7.384, -0.019], [7.41, -0.019], [7.423, -0.001], [7.436, 0.018], [7.449, 0.027], [7.462, 0.036], [7.475, 0.054], [7.495, 0.054],
  [7.508, 0.063], [7.521, 0.063], [7.534, 0.054], [7.547, 0.046], [7.56, 0.046], [7.573, 0.036], [7.586, 0.036], [7.606, 0.018],
  [7.619, 0.018], [7.632, -0.001], [7.652, -0.001], [7.665, 0.018], [7.678, -0.01], [7.691, -0.01], [7.704, -0.019], [7.789, -0.019],
  [7.802, -0.028], [7.815, -0.01], [7.835, -0.01], [7.847, -0.019], [7.86, -0.001], [7.9, -0.001], [7.913, 0.014], [7.926, -0.001],
  [7.939, 0.014], [7.952, -0.001], [7.978, -0.001], [7.991, -0.01], [8.01, -0.01], [8.024, -0.019], [8.037, -0.028], [8.069, -0.028],
  [8.082, -0.037], [8.115, -0.037], [8.128, -0.046], [8.141, -0.037], [8.154, -0.051], [8.167, -0.037], [8.18, -0.046], [8.193, -0.037],
  [8.206, -0.051], [8.219, -0.037], [8.232, -0.046], [8.245, -0.037], [8.258, -0.046], [8.271, -0.037], [8.284, -0.046], [8.297, -0.059],
  [8.31, -0.046], [8.323, -0.037], [8.343, -0.037], [8.356, -0.028], [8.376, -0.019], [8.389, -0.01], [8.402, -0.001], [8.418, 0.009],
  [8.441, 0.027], [8.454, 0.036], [8.467, 0.036], [8.48, 0.054], [8.493, 0.054], [8.506, 0.072], [8.526, 0.082], [8.539, 0.082],
  [8.552, 0.072], [8.565, 0.063], [8.578, 0.063], [8.591, 0.054], [8.604, 0.036], [8.617, 0.036], [8.63, 0.018], [8.643, 0.009],
  [8.656, -0.001], [8.669, -0.001], [8.682, -0.01], [8.708, -0.01], [8.721, -0.001], [8.741, -0.001], [8.754, -0.01], [8.852, -0.01],
  [8.865, -0.001], [8.891, -0.001], [8.904, 0.009], [8.917, -0.001], [8.93, 0.009], [9.002, 0.009], [9.015, -0.001], [9.041, -0.001],
  [9.054, -0.01], [9.074, -0.01], [9.087, -0.019], [9.106, -0.019], [9.119, -0.028], [9.139, -0.028], [9.152, -0.037], [9.172, -0.028],
  [9.185, -0.046], [9.198, -0.037], [9.211, -0.051], [9.224, -0.032], [9.237, -0.046], [9.27, -0.046], [9.283, -0.059], [9.296, -0.037],
  [9.309, -0.046], [9.328, -0.046], [9.341, -0.037], [9.354, -0.028], [9.367, -0.01], [9.38, -0.001], [9.393, 0.009], [9.406, 0.009],
  [9.419, 0.027], [9.439, 0.036], [9.452, 0.046], [9.465, 0.072], [9.497, 0.072], [9.51, 0.063], [9.53, 0.082], [9.543, 0.072],
  [9.556, 0.063], [9.569, 0.054], [9.589, 0.036], [9.608, 0.036], [9.621, 0.018], [9.641, 0.009], [9.66, 0.009], [9.673, -0.001],
  [9.693, -0.001], [9.713, -0.01], [9.726, -0.01], [9.739, -0.019], [9.758, -0.019], [9.771, -0.028], [9.784, -0.019], [9.804, -0.01],
  [9.817, -0.019], [9.837, -0.019], [9.85, -0.01], [9.863, -0.001], [9.876, -0.001], [9.889, -0.015], [9.902, -0.001], [9.921, 0.009],
  [9.934, 0.009], [9.947, 0.018], [9.966, 0.018], [9.986, 0.033], [9.999, 0.018], [10.019, 0.009], [10.038, -0.001],
  [10.062, -0.001], [10.075, -0.01], [10.088, -0.019], [10.101, -0.037], [10.114, -0.037], [10.127, -0.046], [10.147, -0.046], [10.16, -0.056],
  [10.179, -0.056], [10.192, -0.074], [10.212, -0.074], [10.225, -0.082], [10.238, -0.082], [10.251, -0.09], [10.271, -0.09], [10.29, -0.082],
  [10.31, -0.082], [10.323, -0.074], [10.342, -0.074], [10.355, -0.056], [10.368, -0.064], [10.381, -0.046], [10.394, -0.037], [10.407, -0.028],
  [10.42, -0.028], [10.434, -0.001], [10.447, 0.018], [10.466, 0.036], [10.486, 0.054], [10.499, 0.06], [10.512, 0.041], [10.525, 0.054],
  [10.544, 0.054], [10.557, 0.036], [10.577, 0.036], [10.59, 0.009], [10.61, -0.01], [10.629, -0.028], [10.649, -0.037], [10.681, -0.037],
  [10.694, -0.046], [10.714, -0.046], [10.727, -0.037], [10.772, -0.037], [10.786, -0.046], [10.825, -0.046], [10.838, -0.037], [10.851, -0.046],
  [10.864, -0.051], [10.877, -0.037], [10.89, -0.028], [10.909, -0.028], [10.922, -0.015], [10.935, -0.028], [10.948, -0.015], [10.962, -0.028],
  [10.975, -0.019], [11.001, -0.019], [11.02, -0.037], [11.06, -0.037], [11.073, -0.046], [11.086, -0.037], [11.098, -0.046], [11.118, -0.056],
  [11.131, -0.068], [11.144, -0.056], [11.157, -0.068], [11.17, -0.056], [11.183, -0.068], [11.196, -0.052], [11.209, -0.068], [11.222, -0.056],
  [11.235, -0.068], [11.248, -0.056], [11.333, -0.056], [11.346, -0.037], [11.366, -0.028], [11.385, -0.01], [11.405, 0.018], [11.424, 0.046],
  [11.437, 0.063], [11.457, 0.072], [11.47, 0.082], [11.483, 0.082], [11.496, 0.09], [11.509, 0.096], [11.522, 0.082], [11.542, 0.082],
  [11.561, 0.063], [11.581, 0.046], [11.6, 0.027], [11.62, 0.009], [11.639, 0.009], [11.652, 0.018], [11.666, -0.001], [11.698, -0.001],
  [11.711, -0.015], [11.724, -0.01], [11.75, -0.01], [11.763, -0.019], [11.796, -0.019], [11.809, -0.01], [11.835, -0.01], [11.848, -0.001],
  [11.868, -0.001], [11.881, 0.009], [11.894, 0.018], [11.907, 0.018], [11.92, 0.009], [11.933, 0.009], [11.946, 0.018], [12.044, 0.018],
  [12.057, -0.001], [12.096, -0.001], [12.109, -0.019], [12.148, -0.019], [12.161, -0.032], [12.174, -0.019], [12.187, -0.028], [12.213, -0.028],
  [12.226, -0.019], [12.246, -0.019], [12.259, -0.028], [12.272, -0.015], [12.291, -0.028], [12.311, -0.015], [12.324, -0.028], [12.344, -0.028],
  [12.357, -0.041], [12.37, -0.028], [12.389, -0.028], [12.402, -0.019], [12.415, -0.028], [12.435, -0.028], [12.448, -0.019], [12.467, -0.019],
  [12.48, -0.01], [12.493, -0.019], [12.506, -0.01], [12.519, 0.004], [12.532, -0.01], [12.559, -0.01], [12.572, -0.001], [12.591, -0.001],
  [12.604, 0.014], [12.617, -0.001], [12.63, -0.01], [12.643, -0.001], [12.682, -0.001], [12.695, -0.01], [12.721, -0.01], [12.735, -0.001],
  [12.93, -0.001], [12.943, -0.01], [12.956, -0.001], [12.976, -0.001], [12.989, -0.01], [13.041, -0.01], [13.054, 0.004], [13.067, -0.01],
  [13.087, -0.01], [13.1, -0.019], [13.119, -0.01], [13.139, -0.01], [13.152, -0.019], [13.172, -0.019], [13.185, -0.032], [13.198, -0.019],
  [13.224, -0.019], [13.237, -0.028], [13.25, -0.019], [13.27, -0.019], [13.283, -0.032], [13.296, -0.019], [13.329, -0.019], [13.342, -0.01],
  [13.355, -0.001], [13.374, 0.009], [13.387, 0.018], [13.407, 0.027], [13.42, 0.036], [13.433, 0.054], [13.446, 0.063], [13.459, 0.072],
  [13.479, 0.082], [13.498, 0.09], [13.531, 0.09], [13.544, 0.082], [13.557, 0.082], [13.577, 0.054], [13.596, 0.036], [13.616, 0.018],
  [13.629, -0.001], [13.642, -0.001], [13.662, -0.019], [13.675, -0.028], [13.688, -0.015], [13.701, -0.028], [13.734, -0.028], [13.747, -0.037],
  [13.76, -0.028], [13.773, -0.037], [13.786, -0.041], [13.799, -0.051], [13.812, -0.037], [13.823, -0.046], [13.836, -0.046], [13.849, -0.037],
  [13.882, -0.037], [13.895, -0.028], [13.908, -0.019], [13.921, -0.019], [13.934, -0.01], [13.967, -0.01], [13.98, -0.022], [13.993, -0.01],
  [14.071, -0.01], [14.085, -0.019], [14.104, -0.01], [14.117, -0.019], [14.137, -0.019], [14.15, -0.028], [14.169, -0.037], [14.202, -0.037],
  [14.212, -0.046], [14.225, -0.037], [14.238, -0.051], [14.251, -0.037], [14.264, -0.032], [14.277, -0.028], [14.297, -0.028], [14.31, -0.019],
  [14.329, -0.019], [14.342, -0.01], [14.362, -0.001], [14.375, 0.009], [14.394, 0.018], [14.414, 0.018], [14.427, 0.027], [14.447, 0.027],
  [14.46, 0.036], [14.492, 0.036], [14.505, 0.018], [14.518, 0.027], [14.538, 0.027], [14.551, 0.018], [14.571, 0.018], [14.584, 0.009],
  [14.623, 0.009], [14.636, -0.001], [14.656, -0.001], [14.669, -0.01], [14.721, -0.01], [14.734, -0.019], [14.76, -0.019], [14.773, -0.01],
  [14.806, -0.01], [14.819, -0.021], [14.832, -0.01], [14.858, -0.01], [14.877, 0.009], [14.917, 0.009], [14.93, 0.014], [14.943, 0.018],
  [14.956, 0.027], [14.969, 0.014], [15, 0.014],
];

// annotation arrows [day, nm/s^2]
const arrowA = [[8.288, -682], [8.418, -1181]];
const arrowB = [[7.032, -1040], [7.032, -1810]];

function fmtTemp(v: number) {
  const r = Math.round(v * 10) / 10;
  return r === 0 ? '0' : String(r);
}

function fmtGrav(v: number) {
  const r = Math.round(v);
  return r === 0 ? '0' : String(r);
}

function buildPanel(g: number, cfg: any) {
  const xBottom = {
    type: 'value', gridIndex: g, position: 'bottom', min: 0, max: 15, interval: 1,
    axisLine: { show: true, onZero: false, lineStyle: { color: DARK, width: 2.5 } },
    axisTick: { show: true, inside: true, length: 26, lineStyle: { color: DARK, width: 2.5 } },
    axisLabel: {
      show: true, customValues: labelDays, margin: cfg.xMargin, fontSize: 77, color: DARK, fontFamily: FONT,
      formatter: (v: number) => cfg.labels[Math.round(v / 2)] ?? '',
    },
    splitLine: { show: true, lineStyle: { color: GRIDC, width: 2.5 } },
  };
  const xTop = {
    type: 'value', gridIndex: g, position: 'top', min: 0, max: 15, interval: 1,
    axisLine: { show: true, onZero: false, lineStyle: { color: DARK, width: 2.5 } },
    axisTick: { show: true, inside: true, length: 26, lineStyle: { color: DARK, width: 2.5 } },
    axisLabel: { show: false },
    splitLine: { show: false },
  };
  const yLeft = {
    type: 'value', gridIndex: g, position: 'left', min: cfg.gMin, max: cfg.gMax,
    axisLine: { show: true, onZero: false, lineStyle: { color: BLUE, width: 2.5 } },
    axisTick: { show: true, inside: true, length: 27, customValues: cfg.gTicks, lineStyle: { color: BLUE, width: 2.5 } },
    axisLabel: { show: true, customValues: cfg.gLabels, margin: 26, fontSize: 74, color: BLUE, fontFamily: FONT, formatter: fmtGrav },
    splitLine: { show: false },
    name: '{t|gravitational acceleration}\n{t|(nm/s}{s|2}{t|)}',
    nameLocation: 'middle', nameRotate: 90, nameGap: 212, nameMoveOverlap: false,
    nameTextStyle: {
      color: BLUE, fontFamily: FONT, fontSize: 83, lineHeight: 126,
      rich: {
        t: { color: BLUE, fontFamily: FONT, fontSize: 83, lineHeight: 126 },
        s: { color: BLUE, fontFamily: FONT, fontSize: 58, lineHeight: 40, verticalAlign: 'top' },
      },
    },
  };
  const yRight = {
    type: 'value', gridIndex: g, position: 'right', min: cfg.tMin, max: cfg.tMax,
    axisLine: { show: true, onZero: false, lineStyle: { color: ORANGE, width: 2.5 } },
    axisTick: { show: true, inside: true, length: 27, customValues: cfg.tTicks, lineStyle: { color: ORANGE, width: 2.5 } },
    axisLabel: { show: true, customValues: cfg.tLabels, margin: 23, fontSize: 74, color: ORANGE, fontFamily: FONT, formatter: fmtTemp },
    splitLine: { show: false },
    name: 'river temperature (°C)',
    nameLocation: 'middle', nameRotate: 90, nameGap: 177, nameMoveOverlap: false,
    nameTextStyle: { color: ORANGE, fontFamily: FONT, fontSize: 83, lineHeight: 100 },
  };
  const yRightBlue = {
    type: 'value', gridIndex: g, position: 'right', min: cfg.gMin, max: cfg.gMax,
    axisLine: { show: false },
    axisTick: { show: true, inside: true, length: 27, customValues: cfg.gTicks, lineStyle: { color: BLUE, width: 2.5 } },
    axisLabel: { show: false },
    splitLine: { show: false },
  };
  const xi = g * 2;
  const yi = g * 3;
  const series = [
    {
      type: 'line', xAxisIndex: xi, yAxisIndex: yi, data: cfg.grav, showSymbol: false, symbol: 'none',
      smooth: 0.36, smoothMonotone: 'x', silent: true, z: 3,
      lineStyle: { color: BLUE, width: 3 }, itemStyle: { color: BLUE },
      markLine: {
        silent: true, animation: false, symbol: cfg.arrowSymbols, symbolSize: [26, 36],
        lineStyle: { color: '#000000', width: 3, type: 'solid' }, label: { show: false },
        emphasis: { disabled: true },
        data: [[{ coord: cfg.arrow[0] }, { coord: cfg.arrow[1] }]],
      },
    },
    {
      type: 'line', xAxisIndex: xi, yAxisIndex: yi + 1, data: cfg.temp, showSymbol: false, symbol: 'none',
      smooth: false, silent: true, z: 4,
      lineStyle: { color: ORANGE, width: 2.4 }, itemStyle: { color: ORANGE },
    },
  ];
  return { xAxes: [xBottom, xTop], yAxes: [yLeft, yRight, yRightBlue], series };
}

function panelLabel(letter: string, x: number, y: number) {
  return {
    type: 'text', x, y, silent: true,
    style: {
      text: '{p|(}{b|' + letter + '}{p|)}', align: 'center', verticalAlign: 'middle', textAlign: 'center', textVerticalAlign: 'middle',
      fill: '#000000', fontFamily: SERIF, fontSize: 72,
      rich: {
        p: { fontFamily: SERIF, fontSize: 72, fill: '#000000' },
        b: { fontFamily: SERIF, fontSize: 72, fontWeight: 'bold', fill: '#000000' },
      },
    },
  };
}

export default function App() {
  const ref = useRef<HTMLDivElement>(null);
  useEffect(() => {
    if (!ref.current) return;
    const chart = echarts.init(ref.current, null, { renderer: 'svg' });
    const pA = buildPanel(0, {
      labels: labelsA, xMargin: 36, gMin: -4000, gMax: 1000, gTicks: gravTicksA, gLabels: gravLabelsA,
      tMin: -0.2, tMax: 0.5, tTicks: tempTicksA, tLabels: tempLabelsA, grav: gravityA, temp: temperatureA,
      arrow: arrowA, arrowSymbols: ['arrow', 'arrow'],
    });
    const pB = buildPanel(1, {
      labels: labelsB, xMargin: 34, gMin: -3000, gMax: 1000, gTicks: gravTicksB, gLabels: gravLabelsB,
      tMin: -0.1, tMax: 0.4, tTicks: tempTicksB, tLabels: tempLabelsB, grav: gravityB, temp: temperatureB,
      arrow: arrowB, arrowSymbols: ['none', 'arrow'],
    });
    const option: any = {
      animation: false,
      backgroundColor: '#ffffff',
      grid: [
        { left: 462, top: 62, width: 2577, height: 874, outerBoundsMode: 'none', containLabel: false },
        { left: 462, top: 1249, width: 2578, height: 808, outerBoundsMode: 'none', containLabel: false },
      ],
      xAxis: [...pA.xAxes, ...pB.xAxes],
      yAxis: [...pA.yAxes, ...pB.yAxes],
      series: [...pA.series, ...pB.series],
      graphic: [panelLabel('a', 1645, 1124), panelLabel('b', 1664, 2231)],
    };
    chart.setOption(option);
    return () => chart.dispose();
  }, []);
  return (
    <div
      ref={ref}
      style={{ position: 'fixed', left: 0, top: 0, width: 3341, height: 2295, background: '#ffffff' }}
    />
  );
}
